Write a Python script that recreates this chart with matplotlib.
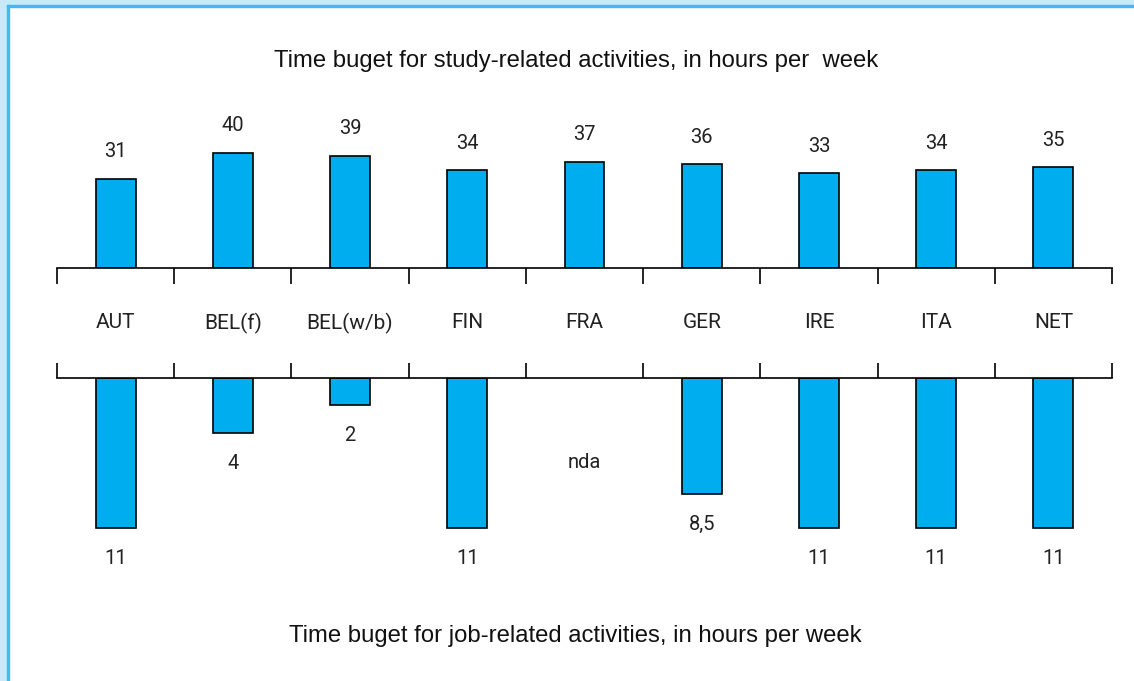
import numpy as np
import matplotlib.pyplot as plt
from matplotlib.patches import Rectangle

countries = ['AUT', 'BEL(f)', 'BEL(w/b)', 'FIN', 'FRA', 'GER', 'IRE', 'ITA', 'NET']
study_hours = [31, 40, 39, 34, 37, 36, 33, 34, 35]
job_hours = [11, 4, 2, 11, np.nan, 8.5, 11, 11, 11]
job_labels = ['11', '4', '2', '11', 'nda', '8,5', '11', '11', '11']

title_top = 'Time buget for study-related activities, in hours per  week'
title_bottom = 'Time buget for job-related activities, in hours per week'

num_font = ['Roboto', 'DejaVu Sans']
txt_color = '#222222'
bar_color = '#00aeef'
W, H = 1134, 681
fig = plt.figure(figsize=(W / 100, H / 100), dpi=100)

# light blue frame on top and left
fig.patches.append(Rectangle((0, 1 - 5 / H), 1, 5 / H, transform=fig.transFigure, color='#c8e9f8', zorder=0))
fig.patches.append(Rectangle((0, 0), 7 / W, 1, transform=fig.transFigure, color='#c8e9f8', zorder=0))
fig.patches.append(Rectangle((7 / W, 0), 2 / W, 1 - 5 / H, transform=fig.transFigure, color='#3dbdee', zorder=1))
fig.patches.append(Rectangle((7 / W, 1 - 6.5 / H), 1, 1.5 / H, transform=fig.transFigure, color='#3dbdee', zorder=1))

x0, x1 = 57 / W, 1112 / W
base_top, base_bot = 268, 378
top_scale, bot_scale = 2.875, 13.65

ax1 = fig.add_axes([x0, 1 - base_top / H, x1 - x0, base_top / H])
ax2 = fig.add_axes([x0, 0, x1 - x0, (H - base_bot) / H])
for ax in (ax1, ax2):
    ax.set_facecolor('none')
    ax.set_xlim(0, len(countries))
    ax.set_xticks(np.arange(len(countries) + 1))
    ax.set_xticklabels([])
    ax.set_yticks([])
    for s in ['left', 'right', 'top', 'bottom']:
        ax.spines[s].set_visible(False)

xs = np.arange(len(countries)) + 0.5

# study-related (upwards)
ax1.set_ylim(0, base_top / top_scale)
ax1.spines['bottom'].set_visible(True)
ax1.spines['bottom'].set_linewidth(1.2)
ax1.tick_params(axis='x', direction='out', length=11.5, width=1.2)
ax1.bar(xs, study_hours, width=0.34, color=bar_color, edgecolor='black', linewidth=1.2)
for x, v in zip(xs, study_hours):
    ax1.annotate(str(v), (x, v), xytext=(0, 19.5), textcoords='offset points',
                 ha='center', va='center', fontsize=14.5, family=num_font, color=txt_color)
for x, c in zip(xs, countries):
    ax1.annotate(c, (x, 0), xytext=(0, -39.6), textcoords='offset points',
                 ha='center', va='center', fontsize=15, family=num_font, color=txt_color,
                 annotation_clip=False)

# job-related (downwards)
ax2.set_ylim((H - base_bot) / bot_scale, 0)
ax2.spines['top'].set_visible(True)
ax2.spines['top'].set_linewidth(1.2)
ax2.xaxis.set_ticks_position('top')
ax2.tick_params(axis='x', direction='out', length=11, width=1.2)
ax2.bar(xs, job_hours, width=0.34, color=bar_color, edgecolor='black', linewidth=1.2)
for x, v, lab in zip(xs, job_hours, job_labels):
    if np.isnan(v):
        ax2.annotate(lab, (x, 0), xytext=(0, -60.5), textcoords='offset points',
                     ha='center', va='center', fontsize=14.5, family=num_font, color=txt_color)
    else:
        ax2.annotate(lab, (x, v), xytext=(0, -22), textcoords='offset points',
                     ha='center', va='center', fontsize=14.5, family=num_font, color=txt_color)

fig.text(576 / W, 1 - 61 / H, title_top, ha='center', va='center', fontsize=17.2,
         family='Liberation Sans', color='#111111')
fig.text(575 / W, 1 - 636 / H, title_bottom, ha='center', va='center', fontsize=17.2,
         family='Liberation Sans', color='#111111')

fig.savefig('out.png', dpi=100, facecolor='white')
